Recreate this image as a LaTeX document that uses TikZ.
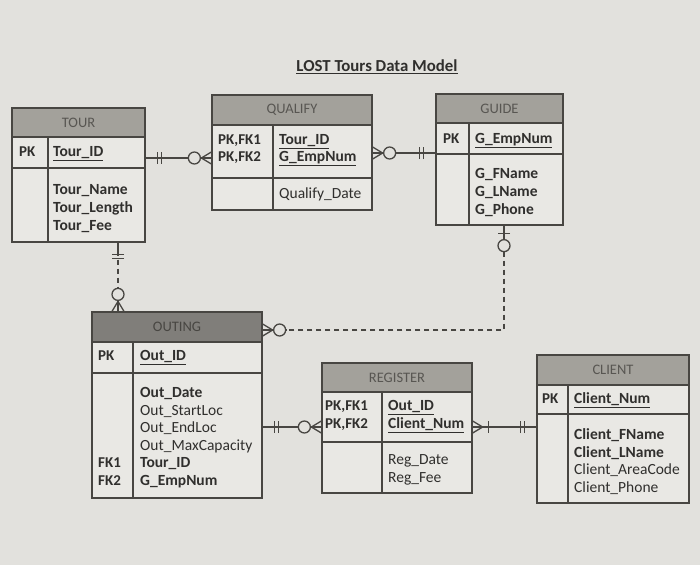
\documentclass[tikz,border=0pt]{standalone}
\usepackage{fontspec}
\setmainfont{Carlito}
\usetikzlibrary{fit}
\definecolor{bg}{RGB}{226,225,221}
\definecolor{boxbg}{RGB}{233,232,228}
\definecolor{hdrc}{RGB}{163,161,155}
\definecolor{hdrdark}{RGB}{128,126,122}
\definecolor{hdrtxt}{RGB}{88,86,82}
\definecolor{boxc}{RGB}{72,70,66}
\definecolor{txt}{RGB}{48,47,45}
\tikzset{
  ent/.style={draw=boxc, line width=1.3pt, inner sep=0pt},
  sep/.style={draw=boxc, line width=1.1pt},
  ttl/.style={font=\fontsize{14.5}{16}\selectfont, text=hdrtxt, inner sep=0pt},
  key/.style={font=\bfseries\fontsize{15}{17}\selectfont, text=txt, anchor=west, inner sep=0pt, text height=10.5pt, text depth=3pt},
  att/.style={font=\fontsize{15.5}{17}\selectfont, text=txt, anchor=west, inner sep=0pt, text height=10.5pt, text depth=3pt},
  batt/.style={att, font=\bfseries\fontsize{15.5}{17}\selectfont},
  conn/.style={draw=boxc, line width=1.3pt},
  dconn/.style={conn, dash pattern=on 5pt off 4pt},
  pics/mone/.style={code={\draw[conn] (12,-6)--(12,6) (16,-6)--(16,6);}},
  pics/zmany/.style={code={\draw[conn] (0,-6)--(10,0)--(0,6) (0,0)--(10,0); \draw[conn, fill=bg] (17,0) circle (6);}},
  pics/omany/.style={code={\draw[conn] (0,-6)--(10,0)--(0,6) (0,0)--(10,0); \draw[conn] (16,-6)--(16,6);}},
  pics/zone/.style={code={\draw[conn] (8,-6)--(8,6); \draw[conn, fill=bg] (20,0) circle (6);}}
}
\begin{document}
\begin{tikzpicture}[x=1pt,y=-1pt]
\fill[bg] (0,0) rectangle (700,565);
\useasboundingbox (0,0) rectangle (700,565);

% title
\node[font=\bfseries\fontsize{16.8}{19}\selectfont, text=txt] (title) at (377,67) {\underline{LOST Tours Data Model}};

% ---------- TOUR ----------
\fill[boxbg] (12,108) rectangle (145,242);
\fill[hdrc] (12,108) rectangle (145,137);
\draw[sep] (12,137)--(145,137) (12,168)--(145,168) (48,137)--(48,242);
\node[ent, fit={(12,108) (145,242)}] (tour) {};
\node[ttl] (tour-t) at (78.5,122.5) {TOUR};
\node[key] (tour-k) at (19,153) {PK};
\node[batt] (tour-pk) at (53,153) {\underline{Tour\_ID}};
\node[batt] (tour-a1) at (53,191) {Tour\_Name};
\node[batt] (tour-a2) at (53,209) {Tour\_Length};
\node[batt] (tour-a3) at (53,227) {Tour\_Fee};

% ---------- QUALIFY ----------
\fill[boxbg] (212,95) rectangle (372,210);
\fill[hdrc] (212,95) rectangle (372,125);
\draw[sep] (212,125)--(372,125) (212,178)--(372,178) (273,125)--(273,210);
\node[ent, fit={(212,95) (372,210)}] (qualify) {};
\node[ttl] (qualify-t) at (292,110) {QUALIFY};
\node[key] (qualify-k1) at (218,141) {PK,FK1};
\node[key] (qualify-k2) at (218,158) {PK,FK2};
\node[batt] (qualify-pk1) at (279,141) {\underline{Tour\_ID}};
\node[batt] (qualify-pk2) at (279,158) {\underline{G\_EmpNum}};
\node[att] (qualify-a1) at (279,195) {Qualify\_Date};

% ---------- GUIDE ----------
\fill[boxbg] (436,94) rectangle (563,225);
\fill[hdrc] (436,94) rectangle (563,123);
\draw[sep] (436,123)--(563,123) (436,154)--(563,154) (469,123)--(469,225);
\node[ent, fit={(436,94) (563,225)}] (guide) {};
\node[ttl] (guide-t) at (499.5,108.5) {GUIDE};
\node[key] (guide-k) at (443,140) {PK};
\node[batt] (guide-pk) at (475,140) {\underline{G\_EmpNum}};
\node[batt] (guide-a1) at (475,175) {G\_FName};
\node[batt] (guide-a2) at (475,193) {G\_LName};
\node[batt] (guide-a3) at (475,211) {G\_Phone};

% ---------- OUTING ----------
\fill[boxbg] (92,312) rectangle (262,498);
\fill[hdrdark] (92,312) rectangle (262,342);
\draw[sep] (92,342)--(262,342) (92,373)--(262,373) (133,342)--(133,498);
\node[ent, fit={(92,312) (262,498)}] (outing) {};
\node[ttl, text=boxc] (outing-t) at (177,327) {OUTING};
\node[key] (outing-k) at (98,357) {PK};
\node[batt] (outing-pk) at (140,357) {\underline{Out\_ID}};
\node[batt] (outing-a1) at (140,394) {Out\_Date};
\node[att] (outing-a2) at (140,411.5) {Out\_StartLoc};
\node[att] (outing-a3) at (140,429) {Out\_EndLoc};
\node[att] (outing-a4) at (140,446.5) {Out\_MaxCapacity};
\node[key] (outing-k1) at (98,464) {FK1};
\node[batt] (outing-a5) at (140,464) {Tour\_ID};
\node[key] (outing-k2) at (98,481.5) {FK2};
\node[batt] (outing-a6) at (140,481.5) {G\_EmpNum};

% ---------- REGISTER ----------
\fill[boxbg] (322,363) rectangle (472,493);
\fill[hdrc] (322,363) rectangle (472,392);
\draw[sep] (322,392)--(472,392) (322,442)--(472,442) (382,392)--(382,493);
\node[ent, fit={(322,363) (472,493)}] (register) {};
\node[ttl] (register-t) at (397,377.5) {REGISTER};
\node[key] (register-k1) at (325,407) {PK,FK1};
\node[key] (register-k2) at (325,424.5) {PK,FK2};
\node[batt] (register-pk1) at (388,407) {\underline{Out\_ID}};
\node[batt] (register-pk2) at (388,424.5) {\underline{Client\_Num}};
\node[att] (register-a1) at (388,461) {Reg\_Date};
\node[att] (register-a2) at (388,478.5) {Reg\_Fee};

% ---------- CLIENT ----------
\fill[boxbg] (537,355) rectangle (689,503);
\fill[hdrc] (537,355) rectangle (689,385);
\draw[sep] (537,385)--(689,385) (537,414)--(689,414) (568,385)--(568,503);
\node[ent, fit={(537,355) (689,503)}] (client) {};
\node[ttl] (client-t) at (613,370) {CLIENT};
\node[key] (client-k) at (542,400) {PK};
\node[batt] (client-pk) at (574,400) {\underline{Client\_Num}};
\node[batt] (client-a1) at (574,436) {Client\_FName};
\node[batt] (client-a2) at (574,453.5) {Client\_LName};
\node[att] (client-a3) at (574,471) {Client\_AreaCode};
\node[att] (client-a4) at (574,488.5) {Client\_Phone};

% ---------- connectors ----------
\coordinate (y1) at (0,158);
\coordinate (y2) at (0,153);
\coordinate (x3) at (118,0);
\coordinate (x4) at (504,0);
\coordinate (y4) at (0,330);
\coordinate (y5) at (0,427);

% TOUR -- QUALIFY
\draw[conn] (tour.east |- y1) -- (qualify.west |- y1);
\pic at (tour.east |- y1) {mone};
\pic[rotate=180] at (qualify.west |- y1) {zmany};

% QUALIFY -- GUIDE
\draw[conn] (qualify.east |- y2) -- (guide.west |- y2);
\pic at (qualify.east |- y2) {zmany};
\pic[rotate=180] at (guide.west |- y2) {mone};

% TOUR -- OUTING (dashed)
\draw[conn] (tour.south -| x3) -- ++(0,8);
\draw[dconn] ([yshift=-8pt]tour.south -| x3) -- ([yshift=17pt]outing.north -| x3);
\draw[conn] ([yshift=17pt]outing.north -| x3) -- (outing.north -| x3);
\pic[rotate=-90] at (tour.south -| x3) {mone};
\pic[rotate=90] at (outing.north -| x3) {zmany};

% GUIDE -- OUTING (dashed)
\draw[conn] (guide.south -| x4) -- ++(0,26);
\draw[dconn] ([yshift=-26pt]guide.south -| x4) |- ([xshift=24pt]outing.east |- y4);
\draw[conn] ([xshift=24pt]outing.east |- y4) -- (outing.east |- y4);
\pic[rotate=-90] at (guide.south -| x4) {zone};
\pic at (outing.east |- y4) {zmany};

% OUTING -- REGISTER
\draw[conn] (outing.east |- y5) -- (register.west |- y5);
\pic at (outing.east |- y5) {mone};
\pic[rotate=180] at (register.west |- y5) {zmany};

% REGISTER -- CLIENT
\draw[conn] (register.east |- y5) -- (client.west |- y5);
\pic at (register.east |- y5) {omany};
\pic[rotate=180] at (client.west |- y5) {mone};
\end{tikzpicture}
\end{document}
